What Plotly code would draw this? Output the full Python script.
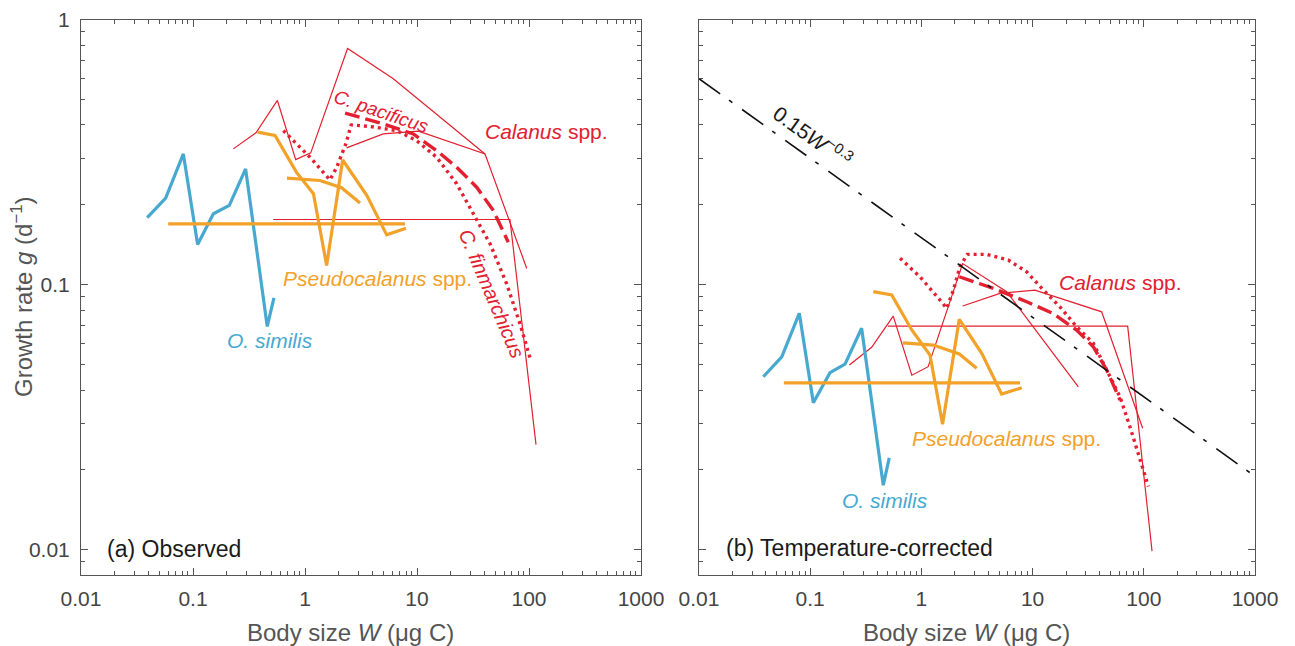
import plotly.graph_objects as go
import math

# ---------------- data: panel (a) observed ----------------
osim_W_a = [0.039, 0.057, 0.082, 0.110, 0.152, 0.211, 0.295, 0.46, 0.528]
osim_g_a = [0.179, 0.212, 0.311, 0.1416, 0.185, 0.199, 0.273, 0.0695, 0.089]

pseudo1_W_a = [0.060, 7.8]
pseudo1_g_a = [0.1695, 0.1695]
pseudo2_W_a = [0.377, 0.54, 0.84, 1.19, 1.56, 2.17, 3.56, 5.36, 7.98]
pseudo2_g_a = [0.376, 0.365, 0.265, 0.22, 0.118, 0.295, 0.217, 0.154, 0.163]
pseudo3_W_a = [0.69, 1.36, 2.12, 3.1]
pseudo3_g_a = [0.252, 0.247, 0.232, 0.203]

calA_W_a = [0.229, 0.365, 0.567, 0.826, 1.125, 2.4, 6.1, 40.5]
calA_g_a = [0.325, 0.374, 0.495, 0.296, 0.314, 0.777, 0.599, 0.311]
calC_W_a = [2.35, 5.0, 10.3, 40.5, 95.5]
calC_g_a = [0.328, 0.37, 0.379, 0.311, 0.115]
calD_W_a = [0.52, 67.6, 115.5]
calD_g_a = [0.176, 0.176, 0.0249]

finm_W_a = [0.64, 1.11, 1.67, 1.92, 2.32, 2.58, 3.80, 6.58, 9.93, 15.0, 22.6, 31.8, 44.9, 63.2, 83.2, 102]
finm_g_a = [0.381, 0.302, 0.248, 0.277, 0.340, 0.40, 0.395, 0.381, 0.349, 0.302, 0.24, 0.185, 0.1425, 0.1006, 0.071, 0.053]
paci_W_a = [2.28, 5.0, 9.27, 15.0, 22.6, 34.1, 48.1, 65.3]
paci_g_a = [0.443, 0.404, 0.37, 0.32, 0.277, 0.233, 0.19, 0.1445]

# ---------------- data: panel (b) temperature-corrected ----------------
osim_W_b = [0.0379, 0.0555, 0.0798, 0.1067, 0.1507, 0.2056, 0.290, 0.454, 0.514]
osim_g_b = [0.0449, 0.0534, 0.0779, 0.0358, 0.0465, 0.0501, 0.0684, 0.0175, 0.0222]

pseudo1_W_b = [0.058, 7.7]
pseudo1_g_b = [0.0426, 0.0426]
pseudo2_W_b = [0.369, 0.541, 0.819, 1.195, 1.55, 2.19, 3.49, 5.27, 7.98]
pseudo2_g_b = [0.094, 0.0913, 0.0674, 0.0542, 0.0297, 0.0739, 0.055, 0.0386, 0.0408]
pseudo3_W_b = [0.679, 1.28, 2.19, 3.14]
pseudo3_g_b = [0.0603, 0.0591, 0.0547, 0.0483]

calA_W_b = [0.225, 0.357, 0.558, 0.82, 1.15, 2.35, 5.85, 25.8]
calA_g_b = [0.0497, 0.058, 0.076, 0.0455, 0.049, 0.120, 0.094, 0.0411]
calC_W_b = [2.35, 5.09, 10.5, 41.8, 97.7]
calC_g_b = [0.083, 0.0926, 0.0953, 0.0789, 0.0287]
calD_W_b = [0.50, 71.6, 118.6]
calD_g_b = [0.0697, 0.0697, 0.00987]

finm_W_b = [0.643, 0.97, 1.47, 1.69, 1.94, 2.22, 2.59, 3.87, 6.04, 8.84, 12.5, 17.6, 24.9, 35.2, 46.4, 61.1, 75.2, 92.5, 110]
finm_g_b = [0.1256, 0.107, 0.0874, 0.0813, 0.0953, 0.1167, 0.130, 0.130, 0.1237, 0.1117, 0.0953, 0.0824, 0.0693, 0.060, 0.0476, 0.0377, 0.029, 0.0218, 0.0173]
paci_W_b = [2.19, 4.43, 8.85, 15.3, 24.9, 35.2, 46.4, 61.1]
paci_g_b = [0.107, 0.0968, 0.0861, 0.0778, 0.0673, 0.0582, 0.0476, 0.0367]

# allometric reference line 0.15 W^-0.3 (end points)
allo_W = [0.01, 1000]
allo_g = [0.598, 0.0189]

x_tickvals = [0.01, 0.1, 1, 10, 100, 1000]
x_ticktext = ["0.01", "0.1", "1", "10", "100", "1000"]
y_tickvals = [0.01, 0.1, 1]
y_ticktext = ["0.01", "0.1", "1"]

# ---------------- styling ----------------
BLUE = "#47A9D0"
ORANGE = "#F2A129"
RED = "#E2202F"
AXC = "#555555"
FONT = "Liberation Sans"

fig = go.Figure()


def add(xs, ys, color, width, dash, xa, ya):
    fig.add_trace(go.Scatter(x=xs, y=ys, mode="lines", xaxis=xa, yaxis=ya,
                             line=dict(color=color, width=width, dash=dash),
                             hoverinfo="skip", showlegend=False))


for xa, ya, d in [("x", "y", dict(
        osim=(osim_W_a, osim_g_a), p1=(pseudo1_W_a, pseudo1_g_a), p2=(pseudo2_W_a, pseudo2_g_a),
        p3=(pseudo3_W_a, pseudo3_g_a), cA=(calA_W_a, calA_g_a), cC=(calC_W_a, calC_g_a),
        cD=(calD_W_a, calD_g_a), fin=(finm_W_a, finm_g_a), pac=(paci_W_a, paci_g_a))),
        ("x2", "y2", dict(
        osim=(osim_W_b, osim_g_b), p1=(pseudo1_W_b, pseudo1_g_b), p2=(pseudo2_W_b, pseudo2_g_b),
        p3=(pseudo3_W_b, pseudo3_g_b), cA=(calA_W_b, calA_g_b), cC=(calC_W_b, calC_g_b),
        cD=(calD_W_b, calD_g_b), fin=(finm_W_b, finm_g_b), pac=(paci_W_b, paci_g_b)))]:
    add(*d["cA"], RED, 1.2, "solid", xa, ya)
    add(*d["cC"], RED, 1.2, "solid", xa, ya)
    add(*d["cD"], RED, 1.2, "solid", xa, ya)
    add(*d["fin"], RED, 3.4, "3px,4px", xa, ya)
    add(*d["pac"], RED, 3.4, "15px,6px", xa, ya)
    add(*d["osim"], BLUE, 3.2, "solid", xa, ya)
    add(*d["p1"], ORANGE, 3.2, "solid", xa, ya)
    add(*d["p2"], ORANGE, 3.2, "solid", xa, ya)
    add(*d["p3"], ORANGE, 3.2, "solid", xa, ya)

add(allo_W, allo_g, "#111111", 1.6, "26px,11px,4px,12px", "x2", "y2")

minor_vals = [k * 10 ** e for e in range(-3, 3) for k in range(2, 10)]

W, H = 1295, 646
y_top, y_bot = 19.5, 575.0
ydom = [(H - y_bot) / H, (H - y_top) / H]
yrange = [math.log10(0.00802), 0]

common_axis = dict(type="log", showline=True, linecolor=AXC, linewidth=1, mirror="ticks",
                   ticks="inside", ticklen=7, tickcolor=AXC, tickwidth=1, showgrid=False,
                   zeroline=False, automargin=False,
                   tickfont=dict(family=FONT, size=21, color="#444444"),
                   minor=dict(tickvals=minor_vals, ticks="inside", ticklen=4, tickcolor=AXC,
                              showgrid=False))

fig.update_layout(
    width=W, height=H, margin=dict(l=0, r=0, t=0, b=0, autoexpand=False),
    paper_bgcolor="white", plot_bgcolor="white", showlegend=False,
    xaxis=dict(common_axis, domain=[81 / W, 641 / W], range=[-2, 3], anchor="y",
               tickvals=x_tickvals, ticktext=x_ticktext, ticklabelstandoff=5),
    yaxis=dict(common_axis, domain=ydom, range=yrange, anchor="x",
               tickvals=y_tickvals, ticktext=y_ticktext, ticklabelstandoff=6),
    xaxis2=dict(common_axis, domain=[699 / W, 1255 / W], range=[-2, 3], anchor="y2",
                tickvals=x_tickvals, ticktext=x_ticktext, ticklabelstandoff=5),
    yaxis2=dict(common_axis, domain=ydom, range=yrange, anchor="x2",
                tickvals=y_tickvals, ticktext=y_ticktext, showticklabels=False),
)


def ann(text, x, y, xref, yref, color, size=19, angle=0, xanchor="center"):
    fig.add_annotation(text=text, x=x, y=y, xref=xref, yref=yref, showarrow=False,
                       textangle=angle, xanchor=xanchor, yanchor="middle",
                       font=dict(family=FONT, size=size, color=color))


# panel (a) labels
ann("<i>C. pacificus</i>", 0.679, -0.347, "x", "y", RED, 19, 18.7)
ann("<i>Calanus</i> spp.", 2.152, -0.423, "x", "y", RED, 21)
ann("<i>C. finmarchicus</i>", 1.67, -1.034, "x", "y", RED, 20, 67)
ann("<i>Pseudocalanus</i> spp.", 0.643, -0.977, "x", "y", ORANGE, 21)
ann("<i>O. similis</i>", -0.3125, -1.211, "x", "y", BLUE, 21)
ann("(a) Observed", -1.786, -1.996, "x", "y", "#1a1a1a", 23, 0, "left")

# panel (b) labels
ann("<i>Calanus</i> spp.", 1.786, -0.991, "x2", "y2", RED, 21)
ann("<i>Pseudocalanus</i> spp.", 0.761, -1.579, "x2", "y2", ORANGE, 21)
ann("<i>O. similis</i>", -0.327, -1.813, "x2", "y2", BLUE, 21)
ann("(b) Temperature-corrected", -1.775, -1.994, "x2", "y2", "#1a1a1a", 23, 0, "left")
ann("0.15<i>W</i><sup>−0.3</sup>", -0.975, -0.44, "x2", "y2", "#1a1a1a", 21, 35.5)

# axis titles
ann("Body size <i>W</i> (μg C)", 350 / W, 1 - 632 / H, "paper", "paper", "#555555", 24)
ann("Body size <i>W</i> (μg C)", 966 / W, 1 - 632 / H, "paper", "paper", "#555555", 24)
ann("Growth rate <i>g</i> (d<sup>−1</sup>)", 22 / W, 1 - 297 / H, "paper", "paper", "#555555", 24, -90)

fig.write_html("out.html")
